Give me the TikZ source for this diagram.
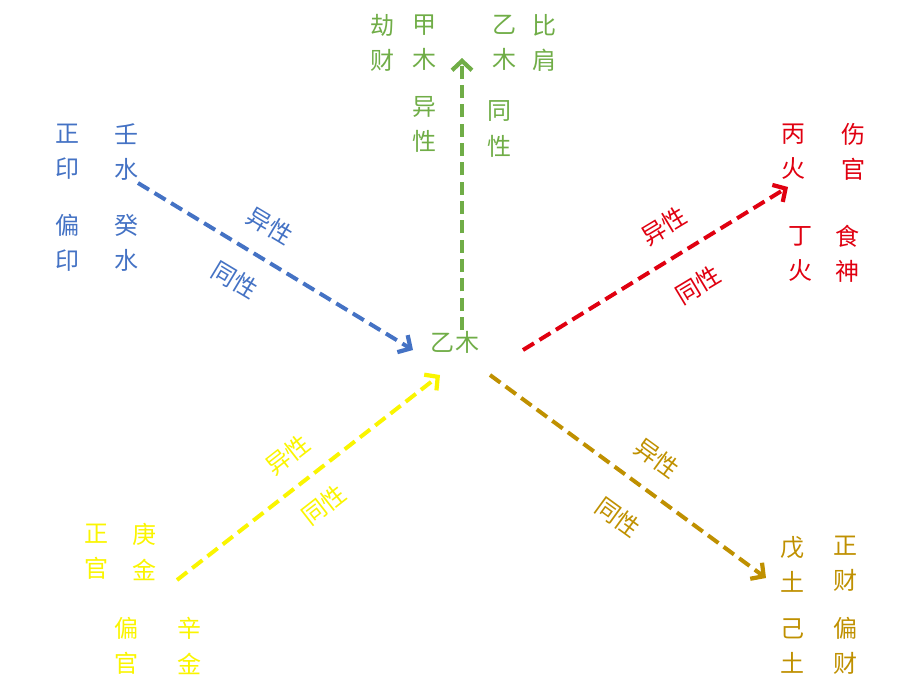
\documentclass[tikz,border=0pt]{standalone}
\usepackage{fontspec}
\setmainfont{Noto Sans CJK SC}
\usetikzlibrary{arrows.meta}

\definecolor{mugreen}{RGB}{112,173,71}
\definecolor{shuiblue}{RGB}{68,114,196}
\definecolor{huored}{RGB}{224,0,16}
\definecolor{jinyellow}{RGB}{250,245,0}
\definecolor{tugold}{RGB}{191,144,0}

\tikzset{
  zi/.style={inner sep=0pt, align=center, font=\fontsize{20.5pt}{30pt}\selectfont},
  flow/.style={line width=3.4pt, dash pattern=on 11pt off 5.5pt,
    -{Straight Barb[length=8pt,width=17pt,line width=3.6pt]}}
}

\begin{document}
\begin{tikzpicture}[x=0.03cm,y=-0.03cm]
\useasboundingbox (0,0) rectangle (924,697);

% centre
\node[zi,text=mugreen] (yimu) at (455,342) {乙木};

% wood, top
\foreach \txt/\x/\nm in {劫\\财/383/jie, 甲\\木/425/jia, 乙\\木/505/yi, 比\\肩/545/bi}
  \node[zi,text=mugreen] (\nm) at (\x,43) {\txt};
\node[zi,text=mugreen] (muyi) at (425,124) {异\\性};
\node[zi,text=mugreen] (mutong) at (500,129) {同\\性};
\coordinate (mus) at (462,330);
\coordinate (mue) at (462,58);
\draw[flow,mugreen] (mus) -- (mue);

% water, upper left
\foreach \txt/\x/\y/\nm in {正\\印/68/152/zy, 壬\\水/127/152/ren, 偏\\印/68/243/py, 癸\\水/127/243/gui}
  \node[zi,text=shuiblue] (\nm) at (\x,\y) {\txt};
\coordinate (shuis) at (138,183);
\coordinate (shuie) at (413,350);
\draw[flow,shuiblue] (shuis) -- (shuie);
\node[zi,text=shuiblue,rotate=-31] (shuiyi) at (270,226) {异性};
\node[zi,text=shuiblue,rotate=-31] (shuitong) at (235,280) {同性};

% fire, upper right
\foreach \txt/\x/\y/\nm in {丙\\火/793/152/bing, 伤\\官/853/152/sg, 丁\\火/800/254/ding, 食\\神/847/254/ss}
  \node[zi,text=huored] (\nm) at (\x,\y) {\txt};
\coordinate (huos) at (523,350);
\coordinate (huoe) at (788,187);
\draw[flow,huored] (huos) -- (huoe);
\node[zi,text=huored,rotate=31] (huoyi) at (664,226) {异性};
\node[zi,text=huored,rotate=31] (huotong) at (698,285) {同性};

% metal, lower left
\foreach \txt/\x/\y/\nm in {正\\官/97/552/zg, 庚\\金/145/552/geng, 偏\\官/127/646/pg, 辛\\金/190/646/xin}
  \node[zi,text=jinyellow] (\nm) at (\x,\y) {\txt};
\coordinate (jins) at (177,580);
\coordinate (jine) at (440,375);
\draw[flow,jinyellow] (jins) -- (jine);
\node[zi,text=jinyellow,rotate=38] (jinyi) at (288,455) {异性};
\node[zi,text=jinyellow,rotate=38] (jintong) at (324,505) {同性};

% earth, lower right
\foreach \txt/\x/\y/\nm in {戊\\土/792/564/wu, 正\\财/845/564/zc, 己\\土/792/646/ji, 偏\\财/845/646/pc}
  \node[zi,text=tugold] (\nm) at (\x,\y) {\txt};
\coordinate (tus) at (490,375);
\coordinate (tue) at (766,578);
\draw[flow,tugold] (tus) -- (tue);
\node[zi,text=tugold,rotate=-36] (tuyi) at (657,458) {异性};
\node[zi,text=tugold,rotate=-36] (tutong) at (618,517) {同性};
\end{tikzpicture}
\end{document}
